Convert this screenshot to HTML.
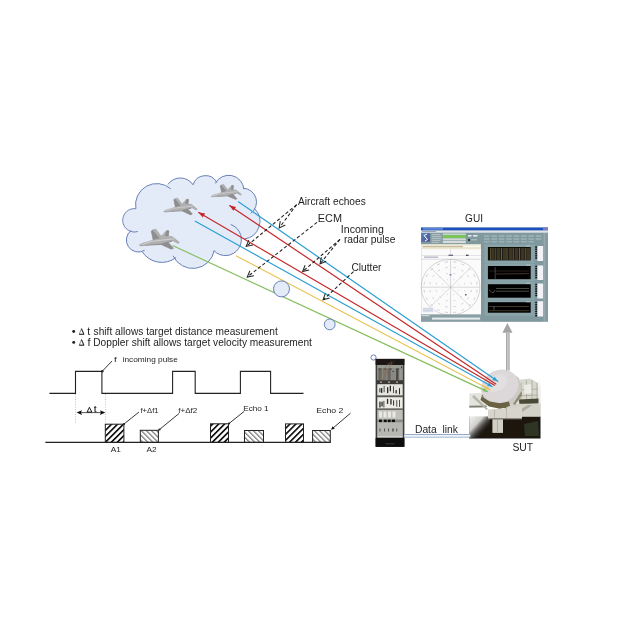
<!DOCTYPE html>
<html><head><meta charset="utf-8">
<style>
html,body{margin:0;padding:0;background:#fff;width:620px;height:620px;overflow:hidden}
svg{display:block}
text{font-family:"Liberation Sans",sans-serif;fill:#1e1e1e}
</style></head><body>
<svg width="620" height="620" viewBox="0 0 620 620">
<defs>
<pattern id="hd" patternUnits="userSpaceOnUse" width="4.2" height="4.2" patternTransform="rotate(45)">
<rect width="4.2" height="4.2" fill="#fff"/><rect width="1.7" height="4.2" fill="#151515"/>
</pattern>
<pattern id="hl" patternUnits="userSpaceOnUse" width="3.6" height="3.6" patternTransform="rotate(-45)">
<rect width="3.6" height="3.6" fill="#fff"/><rect width="1.15" height="3.6" fill="#6e6e6e"/>
</pattern>
<marker id="ah" markerWidth="8" markerHeight="8" refX="6.5" refY="4" orient="auto" markerUnits="userSpaceOnUse">
<path d="M0.5,0.8 L6.5,4 L0.5,7.2" fill="none" stroke="#222" stroke-width="1"/>
</marker>
<filter id="bl" x="-10%" y="-10%" width="120%" height="120%"><feGaussianBlur stdDeviation="0.45"/></filter>
<filter id="bl2" x="-10%" y="-10%" width="120%" height="120%"><feGaussianBlur stdDeviation="0.8"/></filter>
<linearGradient id="shaft" x1="0" x2="1" y1="0" y2="0">
<stop offset="0" stop-color="#9a9a9a"/><stop offset="0.5" stop-color="#d0d0d0"/><stop offset="1" stop-color="#9a9a9a"/>
</linearGradient>
<linearGradient id="logo" x1="0" x2="1" y1="0" y2="1">
<stop offset="0" stop-color="#4a8ab8"/><stop offset="1" stop-color="#5a4a9a"/>
</linearGradient>
<linearGradient id="basefade" x1="0" y1="0" x2="1" y2="1">
<stop offset="0" stop-color="#f6f6f4"/><stop offset="0.35" stop-color="#f0f0ee" stop-opacity="0.85"/><stop offset="0.75" stop-color="#1a1610" stop-opacity="0"/>
</linearGradient>
<filter id="bl2g" x="-5%" y="-5%" width="110%" height="110%"><feGaussianBlur stdDeviation="0.35"/></filter>
<filter id="bl3" x="-5%" y="-5%" width="110%" height="110%"><feGaussianBlur stdDeviation="0.7"/></filter>
<linearGradient id="sutbg" x1="0" y1="0" x2="0" y2="1"><stop offset="0" stop-color="#f6f6f4" stop-opacity="0"/><stop offset="0.25" stop-color="#f2f2ee"/><stop offset="1" stop-color="#ebebe6"/></linearGradient>
<filter id="gall" x="0" y="0" width="620" height="620" filterUnits="userSpaceOnUse"><feGaussianBlur stdDeviation="0.3"/></filter>
</defs><g filter="url(#gall)">

<!-- cloud -->
<path d="M135.9,208.7 A21.2,21.2 0 0 1 166.8,186.1 A15.3,15.3 0 0 1 193.1,184.8 A12.9,12.9 0 0 1 216.4,181.6 A15.2,15.2 0 0 1 243.8,188.2 A13.9,13.9 0 0 1 254.8,208.8 A17.8,17.8 0 0 1 241.5,239.1 A16.0,16.0 0 0 1 214.1,250.9 A21.7,21.7 0 0 1 174.7,258.6 A23.5,23.5 0 0 1 142.0,251.5 A12.0,12.0 0 0 1 130.3,231.1 A11.7,11.7 0 0 1 135.9,208.7 Z" fill="#e4ebf8"/>
<path d="M135.9,208.7 A21.2,21.2 0 0 1 170.8,188.9 M167.9,184.4 A15.3,15.3 0 0 1 193.1,184.8 M193.1,184.8 A12.9,12.9 0 0 1 216.8,182.4 M215.3,183.4 A15.2,15.2 0 0 1 243.9,189.2 M243.4,188.2 A13.9,13.9 0 0 1 250.7,213.4 M254.5,208.6 A17.8,17.8 0 0 1 244.4,239 M230.8,224.5 A16.0,16.0 0 1 1 213.9,250.7 M214.2,250.5 A21.7,21.7 0 0 1 173.1,255.8 M176.1,257.6 A23.5,23.5 0 0 1 142.2,251.8 M144.6,250.3 A12.0,12.0 0 0 1 131.1,230.5 M137.8,231.5 A11.7,11.7 0 1 1 135.9,208.7" fill="none" stroke="#5a74b0" stroke-width="0.9"/>

<!-- planes -->
<g filter="url(#bl)"><g transform="translate(139.2,245.1) scale(1.0) translate(-139.2,-245.1)"><path d="M139.2,245.1 L143,243 L147.4,241.9 L153.1,240.1 L151.2,231.2 L152.5,230 L155.6,229 L161.3,236.2 L166.6,230.4 L169,230.8 L168.4,236.2 L172.4,236.7 L179.3,242.3 L178.1,243.6 L172.4,240.5 L167.6,241.7 L173.6,248.3 L171.3,249.3 L159.9,244.1 L149.3,244.6 L141,246 Z" fill="#b0b0b0" stroke="#959595" stroke-width="0.45"/><path d="M153.1,240.1 L151.2,231.2 L152.5,230 L159.5,238 Z M166.6,230.4 L169,230.8 L168.4,236.2 L165,236 Z M159.9,244.1 L167.6,241.7 L173.6,248.3 L171.3,249.3 Z M141,246 L149.3,244.6 L159.9,244.1 L172,240.5 L172.4,241.5 L160,245 L149,245.4 Z" fill="#8e8e8e"/><path d="M142,244.6 L152,241.3 L163,240 L174,238.8" fill="none" stroke="#d8d8d8" stroke-width="0.8"/></g><g transform="translate(163.6,211.4) scale(0.84) translate(-139.2,-245.1)"><path d="M139.2,245.1 L143,243 L147.4,241.9 L153.1,240.1 L151.2,231.2 L152.5,230 L155.6,229 L161.3,236.2 L166.6,230.4 L169,230.8 L168.4,236.2 L172.4,236.7 L179.3,242.3 L178.1,243.6 L172.4,240.5 L167.6,241.7 L173.6,248.3 L171.3,249.3 L159.9,244.1 L149.3,244.6 L141,246 Z" fill="#b0b0b0" stroke="#959595" stroke-width="0.45"/><path d="M153.1,240.1 L151.2,231.2 L152.5,230 L159.5,238 Z M166.6,230.4 L169,230.8 L168.4,236.2 L165,236 Z M159.9,244.1 L167.6,241.7 L173.6,248.3 L171.3,249.3 Z M141,246 L149.3,244.6 L159.9,244.1 L172,240.5 L172.4,241.5 L160,245 L149,245.4 Z" fill="#8e8e8e"/><path d="M142,244.6 L152,241.3 L163,240 L174,238.8" fill="none" stroke="#d8d8d8" stroke-width="0.8"/></g><g transform="translate(211,196.4) scale(0.76) translate(-139.2,-245.1)"><path d="M139.2,245.1 L143,243 L147.4,241.9 L153.1,240.1 L151.2,231.2 L152.5,230 L155.6,229 L161.3,236.2 L166.6,230.4 L169,230.8 L168.4,236.2 L172.4,236.7 L179.3,242.3 L178.1,243.6 L172.4,240.5 L167.6,241.7 L173.6,248.3 L171.3,249.3 L159.9,244.1 L149.3,244.6 L141,246 Z" fill="#b0b0b0" stroke="#959595" stroke-width="0.45"/><path d="M153.1,240.1 L151.2,231.2 L152.5,230 L159.5,238 Z M166.6,230.4 L169,230.8 L168.4,236.2 L165,236 Z M159.9,244.1 L167.6,241.7 L173.6,248.3 L171.3,249.3 Z M141,246 L149.3,244.6 L159.9,244.1 L172,240.5 L172.4,241.5 L160,245 L149,245.4 Z" fill="#8e8e8e"/><path d="M142,244.6 L152,241.3 L163,240 L174,238.8" fill="none" stroke="#d8d8d8" stroke-width="0.8"/></g></g>

<!-- SUT -->
<g id="sut" filter="url(#bl3)">
<rect x="505" y="378" width="36" height="39" fill="url(#sutbg)"/>
<rect x="469.2" y="416.5" width="71.3" height="22" fill="#1a1610"/>
<path d="M469.2,416 L490,416 L490,438.5 L469.2,438.5 Z" fill="url(#basefade)"/>
<path d="M517,380 L530,378.5 L538,383 L538.5,404 L518,405 Z" fill="#d8d8ce"/>
<path d="M521,383 L521,403 M526.5,380.5 L526.5,403 M532,380 L532,403 M537,383 L537,403 M518,390 L538,389 M518,396 L538,395" stroke="#a4a294" stroke-width="0.7" fill="none"/>
<path d="M524,385 L531,384 L531.5,393 L524.5,394 Z" fill="#ecece6"/>
<path d="M519,399.5 L538.5,398.5 L538.5,403.5 L519.5,404.5 Z" fill="#4a4838"/>
<path d="M505,404 L540.5,403.5 L540.5,416.6 L505,416.6 Z" fill="#d2d2c8"/>
<path d="M509,416 L528,405 L532,405.5 L515,416.5 Z" fill="#aeac9e"/>
<path d="M469.3,393.5 L484,392.5 L487,407.5 L469.3,408 Z" fill="#e4e4de"/>
<path d="M469.3,405.8 L486.5,405.5 L486.8,407.3 L469.3,407.6 Z" fill="#7e7e74"/>
<path d="M474,395 L488,409 L486.5,410 L472,397 Z" fill="#b8b6aa"/>
<path d="M488,409.5 L522,407 L522,418.5 L488,418.5 Z" fill="#d8d6cc"/>
<rect x="494" y="410" width="0.6" height="8.5" fill="#a8a69c"/>
<rect x="506" y="409" width="0.6" height="9.5" fill="#a8a69c"/>
<rect x="488" y="418" width="34" height="1.3" fill="#8a887c"/>
<rect x="492.4" y="419.3" width="10.6" height="13.6" fill="#d2d0c6"/>
<rect x="497" y="420" width="0.6" height="12" fill="#9a988c"/>
<path d="M512,373 L519,378 L521.5,391 L513,404 L501,408 L490,405 L505,380 Z" fill="#cdc9c4"/>
<path d="M481.5,396 L497,406.5 L507,408.5 L504,404 L484,392.5 Z" fill="#6e6648"/>
<path d="M513,404 L521.5,391 L522,395 L515,405 Z" fill="#8e8a72"/>
<ellipse cx="499.8" cy="386.5" rx="19.2" ry="16.4" transform="rotate(-28 499.8 386.5)" fill="#dcd8d9"/>
<ellipse cx="497" cy="383" rx="11" ry="8" transform="rotate(-28 497 383)" fill="#e2dfe0"/>
<path d="M481.5,396.5 L490,401.5 L500,403.3 L509,401.5 L510,406 L500,408.8 L489,406.5 L480.5,400 Z" fill="#6a6244"/>
<path d="M524,424 L538,421 L539,436 L525,436 Z" fill="#2e3424"/>
</g>

<!-- rays -->
<g fill="none" stroke-width="1.2" stroke-linecap="round">
<line x1="238.4" y1="201.8" x2="497.7" y2="381.3" stroke="#2a9fd2"/>
<line x1="229.7" y1="205.7" x2="495.8" y2="383.9" stroke="#c4282a"/>
<line x1="198.7" y1="212.5" x2="494.5" y2="385.2" stroke="#c4282a"/>
<line x1="195.3" y1="221.2" x2="492" y2="386.5" stroke="#2a9fd2"/>
<line x1="236.5" y1="256" x2="490" y2="389.7" stroke="#e9c455"/>
<line x1="173.1" y1="245.7" x2="487.4" y2="391.6" stroke="#84be5c"/>
</g>
<g stroke="none">
<path d="M229.3,205.3 L233.4,210.8 L236.0,207.0 Z" fill="#c4282a"/>
<path d="M198.3,212.2 L202.8,217.5 L205.1,213.5 Z" fill="#c4282a"/>
<path d="M498.0,381.6 L494.6,376.8 L492.3,380.1 Z" fill="#2a9fd2"/>
<path d="M492.4,386.8 L488.9,382.8 L487.2,385.9 Z" fill="#2a9fd2"/>
<path d="M490.4,389.8 L486.8,385.9 L485.1,389.1 Z" fill="#e9c455"/>
<path d="M487.8,391.8 L484.0,388.1 L482.5,391.3 Z" fill="#84be5c"/>
</g>

<!-- bubbles -->
<circle cx="281.5" cy="288.9" r="8" fill="#e4ebf8" stroke="#5a74b0" stroke-width="0.9"/>
<circle cx="329.7" cy="324.4" r="5.4" fill="#e4ebf8" stroke="#5a74b0" stroke-width="0.9"/>
<circle cx="373.5" cy="357.5" r="2.6" fill="#fff" stroke="#5a74b0" stroke-width="0.9"/>

<!-- labels -->

<!-- dashed leaders -->
<g fill="none" stroke="#1e1e1e" stroke-width="1.05" stroke-dasharray="3.3,2.2" marker-end="url(#ah)">
<line x1="296.6" y1="204.7" x2="279.2" y2="227.9"/>
<line x1="296.6" y1="204.7" x2="246.2" y2="246.4"/>
<line x1="317" y1="222.4" x2="247.2" y2="277"/>
<line x1="340" y1="239.4" x2="320" y2="263.9"/>
<line x1="340" y1="239.4" x2="302.6" y2="271.6"/>
<line x1="353.5" y1="271.6" x2="323.1" y2="299.8"/>
</g>

<!-- bullets -->

<!-- pulses -->
<path d="M49.4,393.4 H75.5 V371.4 H101.9 V393.4 H172.6 V371.4 H195.2 V393.4 H240.4 V371.4 H270.6 V393.4 H303.5" fill="none" stroke="#222" stroke-width="1.1"/>
<line x1="112" y1="361" x2="102.5" y2="371" stroke="#222" stroke-width="0.9"/>
<circle cx="102.3" cy="371.3" r="1.2" fill="#222"/>

<!-- bottom line boxes -->
<rect x="105.3" y="424.2" width="18.6" height="18.2" fill="url(#hd)" stroke="#222" stroke-width="1"/>
<rect x="140.3" y="430.3" width="18.1" height="12.1" fill="url(#hl)" stroke="#222" stroke-width="1"/>
<rect x="210.5" y="423.8" width="18" height="18.6" fill="url(#hd)" stroke="#222" stroke-width="1"/>
<rect x="244.5" y="430.5" width="19" height="11.9" fill="url(#hl)" stroke="#222" stroke-width="1"/>
<rect x="285.5" y="423.9" width="18" height="18.5" fill="url(#hd)" stroke="#222" stroke-width="1"/>
<rect x="312.6" y="430.5" width="17.7" height="11.9" fill="url(#hl)" stroke="#222" stroke-width="1"/>
<line x1="45.3" y1="442.4" x2="330.6" y2="442.4" stroke="#222" stroke-width="1.1"/>

<!-- dt -->
<line x1="75.5" y1="394" x2="75.5" y2="424" stroke="#9ab" stroke-width="0.7" stroke-dasharray="1,1.5"/>
<line x1="105.6" y1="394" x2="105.6" y2="424" stroke="#9ab" stroke-width="0.7" stroke-dasharray="1,1.5"/>
<line x1="78" y1="412.6" x2="104" y2="412.6" stroke="#444" stroke-width="0.9"/>
<path d="M76.6,412.6 L82,410.2 L81,412.6 L82,415 Z M105.3,412.6 L99.9,410.2 L100.9,412.6 L99.9,415 Z" fill="#111"/>

<line x1="124" y1="424" x2="139" y2="412" stroke="#222" stroke-width="0.9"/>
<line x1="159.5" y1="429.5" x2="179" y2="413.5" stroke="#222" stroke-width="0.9"/>
<circle cx="124" cy="424" r="1.1" fill="#222"/>
<circle cx="159.5" cy="429.5" r="1.1" fill="#222"/>
<line x1="229" y1="423.5" x2="244" y2="411.5" stroke="#222" stroke-width="0.9"/>
<circle cx="229" cy="423.5" r="1.1" fill="#222"/>
<line x1="350.6" y1="413.1" x2="332.5" y2="428.5" stroke="#222" stroke-width="0.9"/>
<path d="M331.0,429.8 L334.7,428.7 L332.6,426.3 Z" fill="#111"/>

<!-- GUI -->
<g id="gui" filter="url(#bl2g)">
<rect x="421" y="227.5" width="127" height="94.1" fill="#80999f"/>
<rect x="421" y="227.6" width="127" height="2.9" fill="#1c50c0"/>
<rect x="423" y="228.3" width="20" height="1.2" fill="#7a9ae0"/>
<rect x="543" y="227.6" width="5" height="2.9" fill="#8080c0"/>
<rect x="421" y="230.5" width="127" height="2.2" fill="#dfe4ec"/>
<rect x="422" y="231" width="14" height="1" fill="#9aa4b8"/>
<rect x="421.2" y="233" width="8.8" height="8.7" fill="url(#logo)"/>
<path d="M427,234 L424,235.5 L427.5,239.5 L425,241" fill="none" stroke="#fff" stroke-width="1"/>
<rect x="431" y="233.5" width="11" height="10" fill="#8ea2a8"/>
<g fill="#b4c2c6"><rect x="432" y="234" width="8" height="0.9"/><rect x="432" y="236" width="9" height="0.9"/><rect x="432" y="238" width="9" height="0.9"/><rect x="432" y="240" width="8" height="0.9"/><rect x="432" y="242" width="7" height="0.9"/></g>
<rect x="442.8" y="233.4" width="23" height="1.8" fill="#c4d8c4"/>
<rect x="442.8" y="235.5" width="23" height="2.3" fill="#78cc48"/>
<rect x="442.8" y="238.3" width="23" height="2" fill="#d2dad6"/>
<rect x="442.8" y="240.8" width="23" height="2.3" fill="#d6dcda"/>
<rect x="468" y="235" width="3.5" height="1.6" fill="#e4e8ee"/>
<rect x="473" y="235" width="4.5" height="1.6" fill="#e4e8ee"/>
<rect x="468" y="239" width="2" height="2" fill="#2a3a3a"/>
<rect x="471" y="239.3" width="6" height="1" fill="#b8c8cc"/>
<rect x="421.2" y="244.4" width="59.8" height="70.2" fill="#fbfbfb"/>
<rect x="421.2" y="244.4" width="59.8" height="4.8" fill="#ebe6d2"/>
<rect x="423" y="246" width="40" height="1.2" fill="#c8bca0"/>
<rect x="463" y="245.6" width="17" height="1.5" fill="#fafaf0"/>
<rect x="421.2" y="255" width="59.8" height="0.6" fill="#d4d4d4"/>
<rect x="421.2" y="258.8" width="59.8" height="0.7" fill="#cfcfcf"/>
<rect x="448.5" y="254.6" width="4.5" height="1.4" fill="#6a6a80"/>
<rect x="466" y="254.6" width="2.5" height="1.4" fill="#4a4a5a"/>
<rect x="424" y="256.6" width="14" height="1" fill="#9aa0b0"/>
<line x1="450.5" y1="249.3" x2="450.5" y2="255" stroke="#c0c0c0" stroke-width="0.5"/>
<ellipse cx="450.6" cy="287.2" rx="29.4" ry="27.8" fill="none" stroke="#b8b2b8" stroke-width="0.55"/>
<path d="M458.5,289.8 L458.2,290.7 M454.3,294.4 L453.3,294.8 M447.9,294.8 L446.9,294.4 M443.0,290.7 L442.7,289.8 M442.7,284.6 L443.0,283.7 M446.9,280.0 L447.9,279.6 M453.3,279.6 L454.3,280.0 M458.2,283.7 L458.5,284.6 M465.0,290.0 L464.5,291.6 M461.6,296.5 L460.4,297.7 M455.2,300.5 L453.5,300.9 M447.7,300.9 L446.0,300.5 M440.8,297.7 L439.6,296.5 M436.7,291.6 L436.2,290.0 M436.2,284.4 L436.7,282.8 M439.6,277.9 L440.8,276.7 M446.0,273.9 L447.7,273.5 M453.5,273.5 L455.2,273.9 M460.4,276.7 L461.6,277.9 M464.5,282.8 L465.0,284.4 M471.4,289.9 L470.9,292.3 M468.7,297.3 L467.3,299.3 M463.3,303.1 L461.2,304.5 M455.9,306.5 L453.5,307.0 M447.7,307.0 L445.3,306.5 M440.0,304.5 L437.9,303.1 M433.9,299.3 L432.5,297.3 M430.3,292.3 L429.8,289.9 M429.8,284.5 L430.3,282.1 M432.5,277.1 L433.9,275.1 M437.9,271.3 L440.0,269.9 M445.3,267.9 L447.7,267.4 M453.5,267.4 L455.9,267.9 M461.2,269.9 L463.3,271.3 M467.3,275.1 L468.7,277.1 M470.9,282.1 L471.4,284.5 M477.2,289.7 L476.7,292.7 M475.1,297.4 L473.7,300.1 M470.6,304.1 L468.4,306.3 M464.2,309.2 L461.3,310.6 M456.4,312.1 L453.2,312.6 M448.0,312.6 L444.8,312.1 M439.9,310.6 L437.0,309.2 M432.8,306.3 L430.6,304.1 M427.5,300.1 L426.1,297.4 M424.5,292.7 L424.0,289.7 M424.0,284.7 L424.5,281.7 M426.1,277.0 L427.5,274.3 M430.6,270.3 L432.8,268.1 M437.0,265.2 L439.9,263.8 M444.8,262.3 L448.0,261.8 M453.2,261.8 L456.4,262.3 M461.3,263.8 L464.2,265.2 M468.4,268.1 L470.6,270.3 M473.7,274.3 L475.1,277.0 M476.7,281.7 L477.2,284.7" stroke="#a8a8b0" stroke-width="0.5" fill="none"/>
<line x1="421.2" y1="287.2" x2="480" y2="287.2" stroke="#b4b4b8" stroke-width="0.5"/>
<line x1="450.6" y1="259.5" x2="450.6" y2="315" stroke="#b0b0b4" stroke-width="0.5"/>
<line x1="430.4" y1="267.6" x2="470.8" y2="306.8" stroke="#c4b4b8" stroke-width="0.5"/>
<line x1="470.8" y1="267.6" x2="430.4" y2="306.8" stroke="#c4b4b8" stroke-width="0.5"/>
<rect x="449.5" y="274" width="2" height="1.5" fill="#8888a8"/>
<rect x="465" y="294" width="1.5" height="1.5" fill="#5a5a70"/>
<rect x="422.5" y="307.5" width="12" height="5" fill="#eef0f6"/>
<rect x="423" y="308.5" width="10" height="0.8" fill="#b0b8d0"/>
<rect x="423" y="310.5" width="10" height="0.8" fill="#b0b8d0"/>
<rect x="421.2" y="314.6" width="59.8" height="7" fill="#8aa0a6"/>
<rect x="421.5" y="315" width="8" height="1.3" fill="#c8d4d8"/>
<rect x="432" y="317.6" width="48" height="2" fill="#e6ecee"/>
<rect x="481" y="233" width="62.6" height="88.6" fill="#80999f"/>
<g fill="#9fb4b9">
<rect x="484.0" y="235.3" width="5.6" height="1.5"/>
<rect x="491.4" y="235.3" width="5.6" height="1.5"/>
<rect x="498.8" y="235.3" width="5.6" height="1.5"/>
<rect x="506.2" y="235.3" width="5.6" height="1.5"/>
<rect x="513.6" y="235.3" width="5.6" height="1.5"/>
<rect x="521.0" y="235.3" width="5.6" height="1.5"/>
<rect x="528.4" y="235.3" width="5.6" height="1.5"/>
<rect x="535.8" y="235.3" width="5.6" height="1.5"/>
<rect x="484.0" y="238.2" width="5.6" height="1.5"/>
<rect x="491.4" y="238.2" width="5.6" height="1.5"/>
<rect x="498.8" y="238.2" width="5.6" height="1.5"/>
<rect x="506.2" y="238.2" width="5.6" height="1.5"/>
<rect x="513.6" y="238.2" width="5.6" height="1.5"/>
<rect x="521.0" y="238.2" width="5.6" height="1.5"/>
<rect x="528.4" y="238.2" width="5.6" height="1.5"/>
<rect x="535.8" y="238.2" width="5.6" height="1.5"/>
<rect x="484.0" y="241.1" width="5.6" height="1.3"/>
<rect x="491.4" y="241.1" width="5.6" height="1.3"/>
<rect x="498.8" y="241.1" width="5.6" height="1.3"/>
<rect x="506.2" y="241.1" width="5.6" height="1.3"/>
<rect x="513.6" y="241.1" width="5.6" height="1.3"/>
<rect x="521.0" y="241.1" width="5.6" height="1.3"/>
<rect x="528.4" y="241.1" width="5.6" height="1.3"/>
</g>
<rect x="484.5" y="244.5" width="50" height="18.5" fill="#8aa3a9"/>
<rect x="484.5" y="263.5" width="50" height="18" fill="#8aa3a9"/>
<rect x="484.5" y="282" width="50" height="18" fill="#8aa3a9"/>
<rect x="484.5" y="300.5" width="50" height="15.5" fill="#8aa3a9"/>
<rect x="487.9" y="247" width="42.8" height="13.4" fill="#0a0a06"/>
<g fill="#3a3420">
<rect x="491.5" y="248" width="3.2" height="12"/><rect x="497" y="248" width="3.5" height="12"/><rect x="502.5" y="248" width="4" height="12"/><rect x="508.5" y="248" width="4" height="12"/><rect x="514.5" y="248" width="4" height="12"/><rect x="520.5" y="248" width="4.2" height="12"/><rect x="526.5" y="248" width="3.5" height="12"/>
</g>
<g stroke="#a09468" stroke-width="0.6">
<line x1="490.7" y1="248" x2="490.7" y2="260"/><line x1="495.8" y1="248" x2="495.8" y2="260"/><line x1="501.5" y1="248" x2="501.5" y2="260"/><line x1="507.1" y1="248" x2="507.1" y2="260"/><line x1="513.3" y1="248" x2="513.3" y2="260"/><line x1="519.5" y1="248" x2="519.5" y2="260"/><line x1="525.7" y1="248" x2="525.7" y2="260"/>
</g>
<rect x="487.9" y="266" width="42.8" height="13.2" fill="#040404"/>
<line x1="489" y1="271" x2="529" y2="271" stroke="#4a3a30" stroke-width="0.5"/>
<line x1="496" y1="274" x2="529" y2="273.5" stroke="#7a5a4a" stroke-width="0.5"/>
<line x1="495.2" y1="267" x2="495.2" y2="279" stroke="#8a7a60" stroke-width="0.5"/>
<rect x="487.9" y="284.2" width="42.8" height="13.5" fill="#040404"/>
<line x1="496" y1="288.5" x2="529" y2="288.5" stroke="#909080" stroke-width="0.5"/>
<line x1="496" y1="291.2" x2="529" y2="291.2" stroke="#909080" stroke-width="0.5"/>
<path d="M489,290 L493,293 L495,290" stroke="#8a8a80" stroke-width="0.5" fill="none"/>
<rect x="487.9" y="302.2" width="42.8" height="10.5" fill="#040404"/>
<line x1="489" y1="306.5" x2="529" y2="306.5" stroke="#7a6a5a" stroke-width="0.5"/>
<line x1="489" y1="310.6" x2="529" y2="310.6" stroke="#6a5a4a" stroke-width="0.5"/>
<line x1="494" y1="306" x2="494" y2="310" stroke="#8a8a7a" stroke-width="0.5"/>
<g fill="#b0c0c4"><rect x="526" y="245.5" width="4" height="1"/><rect x="526" y="264.6" width="4" height="1"/><rect x="526" y="282.8" width="4" height="1"/><rect x="526" y="301.2" width="4" height="1"/></g>
<rect x="537.4" y="246" width="5.8" height="15" fill="#f0f2f8"/>
<rect x="537.4" y="265.5" width="5.8" height="14.5" fill="#f0f2f8"/>
<rect x="537.4" y="283.5" width="5.8" height="15" fill="#f0f2f8"/>
<rect x="537.4" y="301.2" width="5.8" height="15.3" fill="#f0f2f8"/>
<g fill="#181818">
<rect x="535.2" y="246.3" width="1.9" height="1.5"/>
<rect x="535.2" y="248.5" width="1.9" height="1.5"/>
<rect x="535.2" y="250.7" width="1.9" height="1.5"/>
<rect x="535.2" y="252.9" width="1.9" height="1.5"/>
<rect x="535.2" y="255.1" width="1.9" height="1.5"/>
<rect x="535.2" y="257.3" width="1.9" height="1.5"/>
<rect x="535.2" y="265.8" width="1.9" height="1.5"/>
<rect x="535.2" y="268.0" width="1.9" height="1.5"/>
<rect x="535.2" y="270.2" width="1.9" height="1.5"/>
<rect x="535.2" y="272.4" width="1.9" height="1.5"/>
<rect x="535.2" y="274.6" width="1.9" height="1.5"/>
<rect x="535.2" y="276.8" width="1.9" height="1.5"/>
<rect x="535.2" y="283.8" width="1.9" height="1.5"/>
<rect x="535.2" y="286.0" width="1.9" height="1.5"/>
<rect x="535.2" y="288.2" width="1.9" height="1.5"/>
<rect x="535.2" y="290.4" width="1.9" height="1.5"/>
<rect x="535.2" y="292.6" width="1.9" height="1.5"/>
<rect x="535.2" y="294.8" width="1.9" height="1.5"/>
<rect x="535.2" y="301.8" width="1.9" height="1.5"/>
<rect x="535.2" y="304.0" width="1.9" height="1.5"/>
<rect x="535.2" y="306.2" width="1.9" height="1.5"/>
<rect x="535.2" y="308.4" width="1.9" height="1.5"/>
<rect x="535.2" y="310.6" width="1.9" height="1.5"/>
<rect x="535.2" y="312.8" width="1.9" height="1.5"/>
<rect x="535.2" y="315" width="1.9" height="1.5"/>
</g>
<rect x="543.7" y="233" width="4.1" height="88.6" fill="#869ca2"/>
<rect x="543.8" y="233" width="0.7" height="88.6" fill="#a8b8bc"/>
</g>

<!-- up arrow -->
<rect x="506" y="332.8" width="3.6" height="37.7" fill="url(#shaft)"/>
<path d="M507.4,323 L512.5,332.8 L502.4,332.8 Z" fill="#a4a4a4"/>

<!-- rack -->
<g id="rack" filter="url(#bl)">
<rect x="375.6" y="358.9" width="28.8" height="87.9" fill="#3e3e3e"/>
<rect x="377" y="364.8" width="26" height="73" fill="#8a8a86"/>
<rect x="375.6" y="358.9" width="28.8" height="6" fill="#1a1612"/>
<path d="M388,364.8 L392,360.5 M391,364.8 L395,360.5" stroke="#5a4030" stroke-width="0.6"/>
<rect x="377" y="380.2" width="26" height="4.1" fill="#3a3836"/>
<rect x="380" y="381.5" width="2" height="1.5" fill="#9a9890"/><rect x="388" y="381.5" width="2" height="1.5" fill="#9a9890"/><rect x="396" y="381.5" width="2" height="1.5" fill="#9a9890"/>
<rect x="377.5" y="384.3" width="25" height="11.2" fill="#e6e4de"/>
<rect x="377" y="395.5" width="26" height="1.8" fill="#5a5854"/>
<rect x="377.5" y="397.3" width="25" height="11.2" fill="#ecebe6"/>
<rect x="377.5" y="365" width="25" height="3" fill="#9a9a94"/>
<g fill="#1e1c1a"><rect x="378.5" y="368.6" width="3" height="1"/><rect x="383.5" y="368.6" width="3" height="1"/><rect x="388.5" y="368.6" width="3" height="1"/><rect x="396" y="368.6" width="3" height="1"/></g>
<rect x="378.5" y="369.5" width="3.2" height="10.5" fill="#6a6660"/>
<rect x="383" y="369.5" width="3.2" height="10.5" fill="#7a7670"/>
<rect x="387.5" y="369.5" width="3.2" height="10.5" fill="#6a6660"/>
<rect x="392" y="369.5" width="3" height="10.5" fill="#8a8884"/>
<rect x="396.1" y="369.5" width="2.4" height="10.5" fill="#4a4844"/>
<rect x="399.5" y="369.5" width="2.5" height="10.5" fill="#9a9892"/>
<path d="M379,380 L386,366 L390,363 M382,380 L389,368 L392,362 M385,379 L387,369" stroke="#8a6a50" stroke-width="0.6" fill="none"/>
<rect x="392.5" y="371" width="1" height="1" fill="#222"/>
<rect x="401" y="366.5" width="1.2" height="1.2" fill="#222"/>
<rect x="379.4" y="388.3" width="1" height="4.0" fill="#2a2a28"/>
<rect x="381.0" y="388.0" width="1.3" height="4.9" fill="#2a2a28"/>
<rect x="383.7" y="385.9" width="0.8" height="6.3" fill="#2a2a28"/>
<rect x="387.0" y="387.2" width="1.3" height="5.9" fill="#2a2a28"/>
<rect x="389.7" y="385.7" width="1.3" height="5.6" fill="#2a2a28"/>
<rect x="393.2" y="386.3" width="0.8" height="6.7" fill="#2a2a28"/>
<rect x="395.5" y="390.1" width="1.3" height="3.3" fill="#2a2a28"/>
<rect x="399.0" y="388.2" width="1" height="6.1" fill="#2a2a28"/>
<rect x="379.3" y="401.6" width="1.3" height="5.9" fill="#2a2a28"/>
<rect x="381.4" y="401.7" width="1.3" height="4.7" fill="#2a2a28"/>
<rect x="383.5" y="400.8" width="0.8" height="6.7" fill="#2a2a28"/>
<rect x="386.9" y="398.9" width="1.3" height="5.0" fill="#2a2a28"/>
<rect x="390.3" y="399.0" width="1.3" height="5.5" fill="#2a2a28"/>
<rect x="393.1" y="400.3" width="1" height="5.3" fill="#2a2a28"/>
<rect x="396.4" y="400.1" width="0.8" height="6.6" fill="#2a2a28"/>
<rect x="399.2" y="399.9" width="0.8" height="7.0" fill="#2a2a28"/>
<rect x="377" y="408.5" width="26" height="1.5" fill="#6a6864"/>
<rect x="377.5" y="410" width="25" height="9.5" fill="#c2c0ba"/>
<g fill="#e8e8e4"><rect x="379" y="411.5" width="3" height="6"/><rect x="383.5" y="411.5" width="3" height="6"/><rect x="388" y="411.5" width="3" height="6"/><rect x="392.5" y="411.5" width="3" height="6"/></g>
<rect x="379" y="419.6" width="2.9" height="2.7" fill="#111"/>
<rect x="383.8" y="419.6" width="2.9" height="2.7" fill="#111"/>
<rect x="387.8" y="419.6" width="2.9" height="2.7" fill="#111"/>
<rect x="391.8" y="419.6" width="3.2" height="2.7" fill="#111"/>
<rect x="377.5" y="422.3" width="25" height="15.5" fill="#b6b6b2"/>
<g fill="#4a4a48"><rect x="379.5" y="428.5" width="0.9" height="3"/><rect x="384" y="428.5" width="0.9" height="3"/><rect x="388" y="428.5" width="0.9" height="3"/><rect x="392.3" y="428.5" width="1.4" height="3"/><rect x="396.3" y="428.5" width="0.9" height="3"/></g>
<rect x="377.5" y="436" width="25" height="1.5" fill="#d0d0cc"/>
<rect x="375.6" y="437.8" width="28.8" height="9" fill="#0a0a0a"/>
<rect x="385" y="443" width="10" height="1.5" rx="0.7" fill="#2a2a2a"/>
</g>

<!-- data link -->
<rect x="404.4" y="434" width="66" height="1.1" fill="#94acc8"/>
<rect x="404.4" y="436.5" width="66" height="1.1" fill="#94acc8"/>
<rect x="404.4" y="435.1" width="66" height="1.4" fill="#eef4fa"/>

<!-- TEXTS -->
<text transform="translate(297.98,204.50) scale(1.0164,1)" font-size="10" fill="#1e1e1e" >Aircraft echoes</text>
<text transform="translate(317.81,221.60) scale(1.0884,1)" font-size="10" fill="#1e1e1e" >ECM</text>
<text transform="translate(340.82,232.60) scale(1.0613,1)" font-size="10" fill="#1e1e1e" >Incoming</text>
<text transform="translate(343.92,242.90) scale(1.0300,1)" font-size="10" fill="#1e1e1e" >radar pulse</text>
<text transform="translate(351.48,270.60) scale(1.0184,1)" font-size="10" fill="#1e1e1e" >Clutter</text>
<text transform="translate(465.10,221.90) scale(0.9169,1)" font-size="11" fill="#1e1e1e" >GUI</text>
<text transform="translate(512.42,451.00) scale(1.0357,1)" font-size="10" fill="#1e1e1e" >SUT</text>
<text transform="translate(414.96,432.90) scale(1.0301,1)" font-size="10" fill="#1e1e1e" >Data  link</text>
<text transform="translate(93.62,334.60) scale(1.0163,1)" font-size="10" fill="#1e1e1e" >shift allows target distance measurement</text>
<text transform="translate(93.27,345.60) scale(1.0177,1)" font-size="10" fill="#1e1e1e" >Doppler shift allows target velocity measurement</text>
<text transform="translate(87.34,334.60) scale(1.0547,1)" font-size="10" fill="#1e1e1e" >t</text>
<text transform="translate(87.45,345.60) scale(1.0943,1)" font-size="10" fill="#1e1e1e" >f</text>
<text transform="translate(113.96,362.20) scale(1.3082,1)" font-size="7.5" fill="#1e1e1e" >f</text>
<text transform="translate(122.64,362.10) scale(1.1059,1)" font-size="7.5" fill="#1e1e1e" >incoming pulse</text>
<text transform="translate(243.23,410.60) scale(1.0910,1)" font-size="7.5" fill="#1e1e1e" >Echo 1</text>
<text transform="translate(316.28,412.90) scale(1.1629,1)" font-size="7.5" fill="#1e1e1e" >Echo 2</text>
<text transform="translate(110.78,451.80) scale(1.0749,1)" font-size="7.7" fill="#1e1e1e" >A1</text>
<text transform="translate(146.38,451.80) scale(1.0758,1)" font-size="7.7" fill="#1e1e1e" >A2</text>
<text transform="translate(140.49,412.80) scale(1.0478,1)" font-size="7.3" fill="#1e1e1e" >f+Δf1</text>
<text transform="translate(178.19,413.10) scale(1.1078,1)" font-size="7.3" fill="#1e1e1e" >f+Δf2</text>
<circle cx="73.7" cy="331.5" r="1.45" fill="#1e1e1e"/>
<circle cx="73.7" cy="342.4" r="1.45" fill="#1e1e1e"/>
<path d="M79.2,334.3 L81.5,328.7 L83.9,334.3 Z" fill="none" stroke="#3a3a3a" stroke-width="0.55"/>
<path d="M81.5,328.7 L83.9,334.3 L79.2,334.3" fill="none" stroke="#1a1a1a" stroke-width="0.9"/>
<path d="M79.2,345.2 L81.5,339.6 L83.9,345.2 Z" fill="none" stroke="#3a3a3a" stroke-width="0.55"/>
<path d="M81.5,339.6 L83.9,345.2 L79.2,345.2" fill="none" stroke="#1a1a1a" stroke-width="0.9"/>
<path d="M87.1,412.1 L89.4,407.3 L91.8,412.1 Z" fill="#fff" stroke="#111" stroke-width="0.95"/>
<text transform="translate(93.9,412.4) scale(1,1)" font-size="8.5" fill="#111" stroke="#111" stroke-width="0.25">t</text>
</g></svg>
</body></html>
